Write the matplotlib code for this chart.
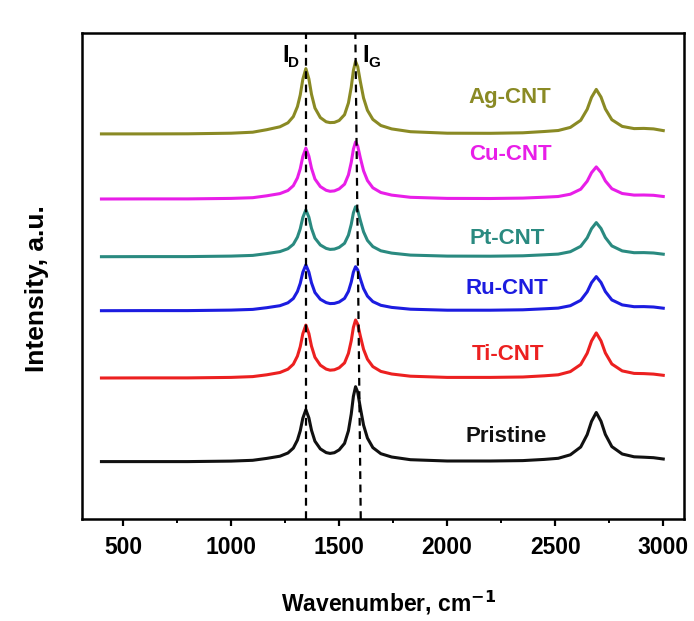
import matplotlib
matplotlib.use("Agg")
import matplotlib.pyplot as plt
from matplotlib.ticker import MultipleLocator

plt.rcParams['font.family'] = ['Liberation Sans', 'DejaVu Sans']

# Wavenumber grid (cm^-1)
wavenumber = [400, 600, 800, 1000, 1100, 1165, 1226, 1263, 1288, 1307, 1320, 1332,
              1346, 1360, 1372, 1388, 1413, 1440, 1458, 1478, 1500, 1525, 1543, 1556,
              1566, 1576, 1586, 1598, 1613, 1631, 1656, 1693, 1743, 1830, 2000, 2200,
              2350, 2450, 2514, 2570, 2618, 2648, 2668, 2690, 2712, 2732, 2762, 2810,
              2865, 2910, 2955, 3000]

# Intensities (a.u.), before vertical stacking
ag_cnt = [0.1, 0.1, 0.2, 0.8, 1.8, 4.3, 7.2, 11.2, 17.4, 27.4, 39.0, 54.8,
          65.4, 55.1, 39.8, 26.0, 16.4, 12.2, 11.4, 11.6, 13.5, 19.3, 31.0, 46.8,
          63.5, 72.6, 67.3, 52.6, 36.0, 23.7, 14.6, 8.5, 5.1, 2.3, 0.8, 0.7,
          1.2, 2.5, 3.5, 6.6, 13.7, 24.7, 36.6, 44.6, 36.9, 25.1, 14.3, 7.6,
          5.4, 5.6, 5.1, 3.4]
cu_cnt = [0.0, 0.1, 0.1, 0.6, 1.3, 3.2, 5.4, 8.5, 13.3, 21.1, 30.2, 42.6,
          50.9, 42.8, 30.8, 20.0, 12.4, 8.7, 7.7, 8.1, 10.1, 14.8, 24.1, 36.6,
          49.8, 57.0, 52.9, 41.2, 28.2, 18.5, 11.2, 6.5, 3.9, 1.7, 0.6, 0.5,
          0.9, 1.8, 2.5, 4.8, 9.8, 17.8, 26.3, 32.1, 26.5, 18.1, 10.3, 5.5,
          3.9, 4.0, 3.7, 2.5]
pt_cnt = [0.0, 0.1, 0.1, 0.6, 1.3, 3.1, 5.1, 8.0, 12.4, 19.6, 27.9, 39.2,
          46.9, 39.5, 28.4, 18.6, 11.7, 8.3, 7.3, 7.6, 9.3, 13.4, 21.5, 32.3,
          43.8, 50.0, 46.3, 36.3, 24.9, 16.3, 10.1, 5.9, 3.6, 1.6, 0.6, 0.5,
          0.9, 1.9, 2.6, 5.0, 10.4, 18.9, 28.0, 34.1, 28.2, 19.2, 10.8, 5.8,
          4.0, 4.1, 3.7, 2.5]
ru_cnt = [0.0, 0.1, 0.1, 0.6, 1.3, 3.0, 5.0, 7.9, 12.2, 19.2, 27.3, 38.4,
          45.8, 38.6, 27.9, 18.2, 11.4, 8.1, 7.1, 7.3, 8.7, 12.3, 19.3, 28.6,
          38.6, 44.0, 40.8, 32.0, 22.1, 14.6, 9.1, 5.4, 3.3, 1.5, 0.5, 0.5,
          0.9, 1.9, 2.6, 5.0, 10.4, 18.9, 28.0, 34.1, 28.2, 19.2, 10.8, 5.8,
          4.0, 4.1, 3.7, 2.5]
ti_cnt = [0.0, 0.1, 0.1, 0.6, 1.4, 3.2, 5.5, 8.8, 13.8, 21.9, 31.3, 44.3,
          52.9, 44.5, 31.9, 20.7, 12.8, 8.9, 7.8, 8.2, 10.2, 15.1, 24.6, 37.2,
          50.7, 58.0, 53.8, 42.0, 28.7, 18.8, 11.4, 6.6, 4.0, 1.8, 0.6, 0.6,
          1.0, 2.2, 3.2, 6.4, 13.5, 24.8, 37.0, 45.1, 37.1, 25.1, 14.0, 7.1,
          4.6, 4.4, 3.9, 2.7]
pristine = [0.1, 0.1, 0.1, 0.6, 1.4, 3.3, 5.5, 8.7, 13.6, 21.6, 30.9, 43.5,
            52.0, 43.8, 31.5, 20.5, 12.8, 9.1, 8.3, 9.0, 11.8, 18.3, 30.9, 47.6,
            65.4, 75.0, 69.5, 54.0, 36.6, 23.6, 14.1, 8.0, 4.7, 2.0, 0.7, 0.7,
            1.1, 2.3, 3.4, 6.9, 14.7, 27.1, 40.3, 49.2, 40.4, 27.3, 15.1, 7.7,
            4.9, 4.5, 4.0, 2.7]

labels = ["Ag-CNT", "Cu-CNT", "Pt-CNT", "Ru-CNT", "Ti-CNT", "Pristine"]
series = [ag_cnt, cu_cnt, pt_cnt, ru_cnt, ti_cnt, pristine]
offsets = [385, 320, 262.3, 208.3, 141, 57.3]
colors = ["#8A8A24", "#E81EE8", "#2A8A80", "#1C1CE0", "#EC2020", "#111111"]
label_pos = [(2291, 421), (2291, 364), (2277, 281), (2277, 231), (2281, 164), (2272, 82)]

x_ticks = [500, 1000, 1500, 2000, 2500, 3000]
peak_D = 1346
peak_G_top, peak_G_bottom = 1575, 1600

fig = plt.figure(figsize=(6.94, 6.21), dpi=100)
ax = fig.add_axes([82/694, 1-519/621, (684-82)/694, (519-33)/621])

for ys, off, c in zip(series, offsets, colors):
    ax.plot(wavenumber, [v + off for v in ys], color=c, lw=2.2, solid_joinstyle='round')

for name, (lx, ly), c in zip(labels, label_pos, colors):
    ax.text(lx, ly, name, color=c, fontsize=16, fontweight='bold', ha='center', va='center')

ax.set_xlim(310, 3096)
ax.set_ylim(0, 486)

ax.plot([peak_D, peak_D], [0, 486], color='black', lw=1.6, ls=(0, (3.5, 2.5)))
ax.plot([peak_G_bottom, peak_G_top], [0, 486], color='black', lw=1.6, ls=(0, (3.5, 2.5)))

ax.text(1254, 463, "I", fontsize=17, fontweight='bold', ha='center', va='center')
ax.text(1290, 456, "D", fontsize=11, fontweight='bold', ha='center', va='center')
ax.text(1625, 463, "I", fontsize=17, fontweight='bold', ha='center', va='center')
ax.text(1665, 456, "G", fontsize=11, fontweight='bold', ha='center', va='center')

ax.set_xticks(x_ticks)
ax.xaxis.set_minor_locator(MultipleLocator(250))
ax.set_yticks([])
ax.tick_params(axis='x', which='major', direction='out', length=5, width=1.6,
               labelsize=16.5, pad=7)
ax.tick_params(axis='x', which='minor', direction='out', length=3, width=1.4)
for lab in ax.get_xticklabels():
    lab.set_fontweight('bold')
for sp in ax.spines.values():
    sp.set_linewidth(1.8)

ax.set_xlabel("Wavenumber, cm$^{\\mathbf{-1}}$", fontsize=16.5, fontweight='bold')
ax.xaxis.set_label_coords(0.51, -0.143)
ax.set_ylabel("Intensity, a.u.", fontsize=19, fontweight='bold')
ax.yaxis.set_label_coords(-0.055, 0.475)

fig.savefig("out.png", dpi=100)
